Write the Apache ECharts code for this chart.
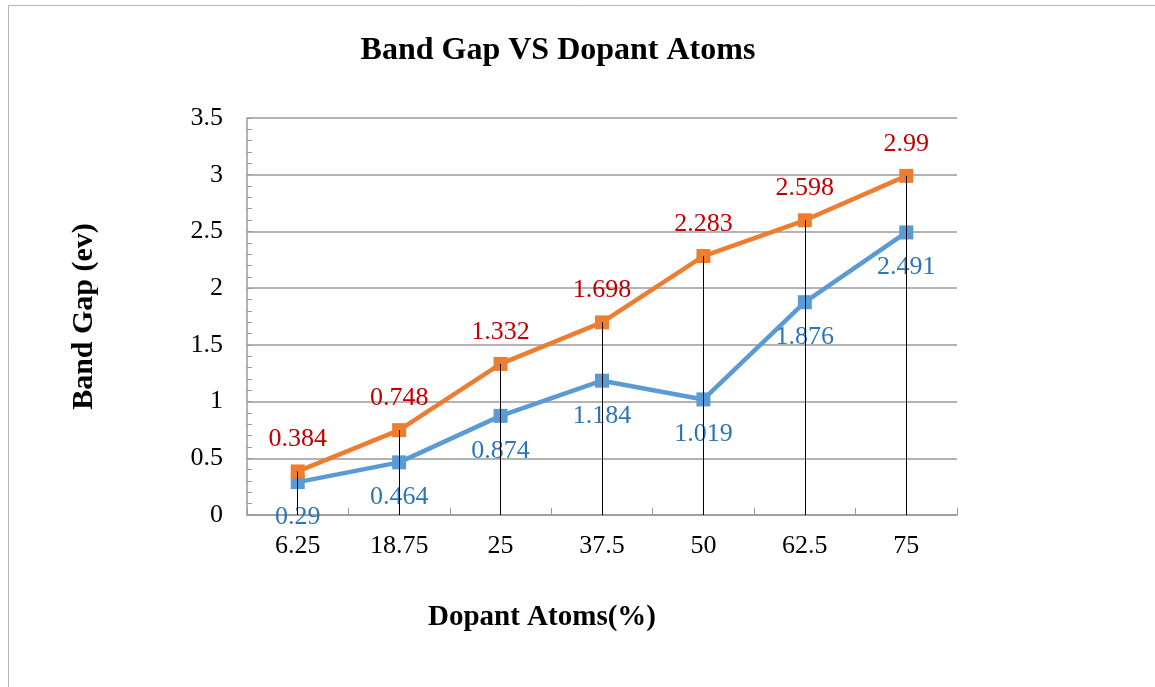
<!DOCTYPE html>
<html><head><meta charset="utf-8">
<script src="https://cdn.jsdelivr.net/npm/echarts@6/dist/echarts.min.js"></script>
<style>html,body{margin:0;padding:0;background:#fff}#c{width:1155px;height:687px}</style>
</head><body><div id="c"></div>
<script>
const categories = ['6.25','18.75','25','37.5','50','62.5','75'];
const seriesUpper = [0.384,0.748,1.332,1.698,2.283,2.598,2.99];
const seriesLower = [0.29,0.464,0.874,1.184,1.019,1.876,2.491];
const titleText = 'Band Gap VS Dopant Atoms';
const yName = 'Band Gap (ev)';
const xName = 'Dopant Atoms(%)';

const F = "'Liberation Serif','Times New Roman',serif";
const chart = echarts.init(document.getElementById('c'), null, {renderer:'canvas'});
const dropData = categories.map((c,i)=>[{coord:[i,0]},{coord:[i,Math.max(seriesUpper[i],seriesLower[i])]}]);
chart.setOption({
  animation:false,
  backgroundColor:'#fff',
  graphic:[
    {type:'rect',shape:{x:8.5,y:5.5,width:1300,height:800},style:{fill:'none',stroke:'#b4b4b4',lineWidth:1},silent:true}
  ],
  title:{text:titleText,left:553,top:30,textAlign:'center',
    textStyle:{fontFamily:F,fontWeight:'bold',fontSize:32,color:'#000'}},
  grid:{left:247,right:198,top:118,bottom:172},
  xAxis:{type:'category',data:categories,boundaryGap:true,
    name:xName,nameLocation:'middle',nameGap:88,
    nameTextStyle:{fontFamily:F,fontWeight:'bold',fontSize:29,color:'#000',padding:[0,120,0,0]},
    axisLine:{lineStyle:{color:'#9a9a9a',width:1.5}},
    axisTick:{show:true,inside:true,length:7,alignWithLabel:false,lineStyle:{color:'#9a9a9a'}},
    axisLabel:{fontFamily:F,fontSize:26,color:'#000',margin:18},
    splitLine:{show:false}},
  yAxis:{type:'value',min:0,max:3.5,interval:0.5,
    name:yName,nameLocation:'middle',nameGap:148,nameRotate:90,
    nameTextStyle:{fontFamily:F,fontWeight:'bold',fontSize:30,color:'#000'},
    axisLine:{show:true,lineStyle:{color:'#9a9a9a',width:1.5}},
    axisTick:{show:true,inside:true,length:5,lineStyle:{color:'#9a9a9a'}},
    minorTick:{show:true,splitNumber:5,length:5,lineStyle:{color:'#9a9a9a'}},
    axisLabel:{fontFamily:F,fontSize:26,color:'#000',margin:24,formatter:v=>String(v)},
    splitLine:{show:true,lineStyle:{color:'#9a9a9a',width:1.5}}},
  series:[
    {type:'line',data:seriesLower,symbol:'rect',symbolSize:14,z:3,
      lineStyle:{color:'#5B9BD5',width:4.5},itemStyle:{color:'#5B9BD5'},
      label:{show:true,position:'bottom',distance:15,fontFamily:F,fontSize:26,color:'#2E75B6'}},
    {type:'line',data:seriesUpper,symbol:'rect',symbolSize:14,z:4,
      lineStyle:{color:'#ED7D31',width:4.5},itemStyle:{color:'#ED7D31'},
      label:{show:true,position:'top',distance:12,fontFamily:F,fontSize:26,color:'#C00000'},
      markLine:{silent:true,symbol:['none','none'],label:{show:false},animation:false,
        lineStyle:{color:'#000',width:1,type:'solid'},data:dropData}}
  ]
});
</script></body></html>
